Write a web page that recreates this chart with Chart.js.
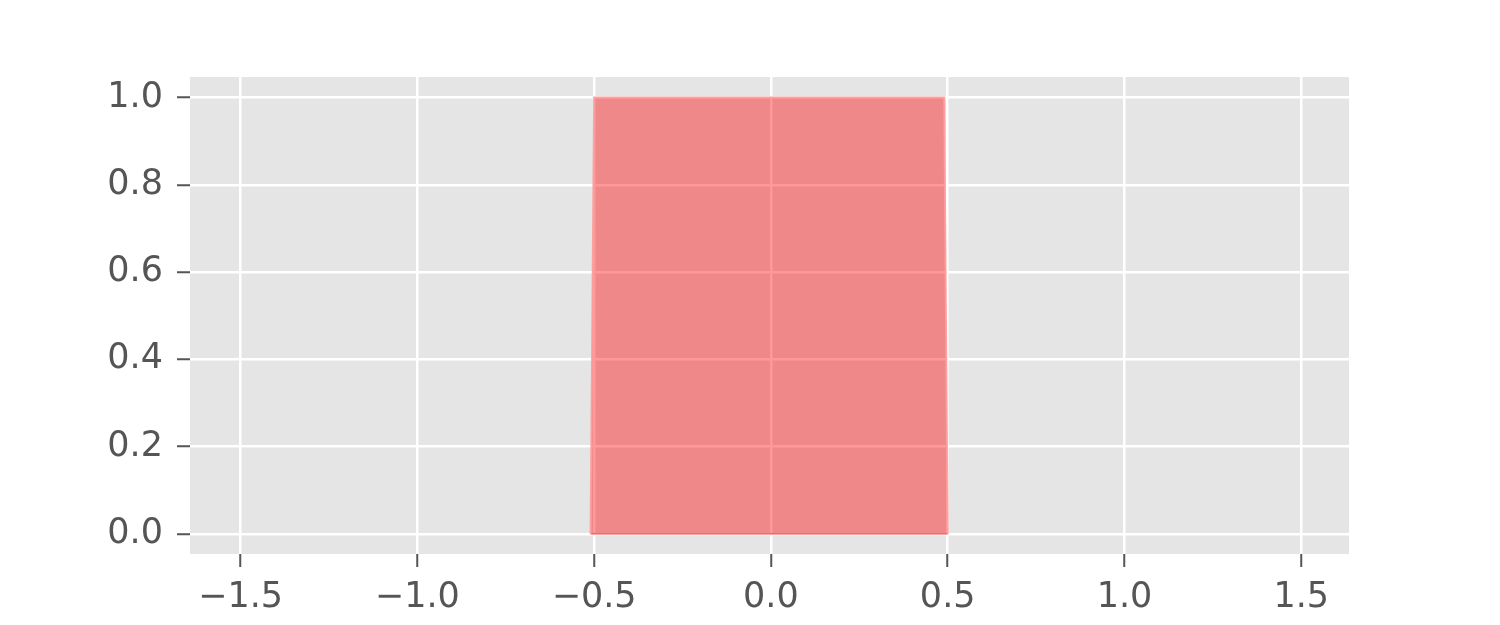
<!DOCTYPE html>
<html>
<head>
<meta charset="utf-8">
<script src="https://cdn.jsdelivr.net/npm/chart.js@4/dist/chart.umd.min.js"></script>
<style>
  html, body { margin:0; padding:0; background:#fff; }
  canvas { display:block; }
</style>
</head>
<body>
<canvas id="c" width="1500" height="625"></canvas>
<script>
// polygon corners (x, y)
const polyX = [-0.51, -0.5, 0.49, 0.5];
const polyY = [0, 1, 1, 0];
// closing bottom edge
const baseX = [-0.51, 0.5];
const baseY = [0, 0];
const xTicks = [-1.5, -1.0, -0.5, 0.0, 0.5, 1.0, 1.5];
const yTicks = [0.0, 0.2, 0.4, 0.6, 0.8, 1.0];
const xRange = [-1.643, 1.635];
const yRange = [-0.046, 1.047];

const pts = (xs, ys) => xs.map((x, i) => ({x, y: ys[i]}));
const fmt = v => (v < 0 ? '\u2212' : '') + Math.abs(v).toFixed(1);

const PlotBg = {
  id:'plotBg',
  beforeDraw(chart){
    const {ctx, chartArea:{left, top, width, height}} = chart;
    ctx.save(); ctx.fillStyle = '#e5e5e5';
    ctx.fillRect(left, top, width, height); ctx.restore();
  }
};

const tickFont = {family:'"DejaVu Sans", sans-serif', size:35};

new Chart(document.getElementById('c').getContext('2d'), {
  type:'scatter',
  data:{datasets:[
    {data:pts(polyX, polyY), showLine:true, fill:'origin', tension:0,
     backgroundColor:'rgba(255,0,0,0.4)', borderColor:'rgba(255,155,155,0.9)',
     borderWidth:2, pointRadius:0},
    {data:pts(baseX, baseY), showLine:true, fill:false,
     borderColor:'rgba(255,155,155,0.9)', borderWidth:2, pointRadius:0}
  ]},
  options:{
    responsive:false, animation:false,
    layout:{padding:{top:77, right:151, bottom:0, left:0}},
    plugins:{legend:{display:false}, tooltip:{enabled:false}},
    scales:{
      x:{type:'linear', min:xRange[0], max:xRange[1],
        afterBuildTicks(s){ s.ticks = xTicks.map(v => ({value:v})); },
        afterFit(s){ s.height = 71; },
        border:{display:false},
        grid:{color:'#ffffff', lineWidth:2.5, tickColor:'#555555', tickLength:13, tickWidth:2},
        ticks:{color:'#555555', font:tickFont, padding:10, maxRotation:0, callback:v => fmt(v)}},
      y:{type:'linear', min:yRange[0], max:yRange[1],
        afterBuildTicks(s){ s.ticks = yTicks.map(v => ({value:v})); },
        afterFit(s){ s.width = 190; },
        border:{display:false},
        grid:{color:'#ffffff', lineWidth:2.5, tickColor:'#555555', tickLength:13, tickWidth:2},
        ticks:{color:'#555555', font:tickFont, padding:14, callback:v => fmt(v)}}
    }
  },
  plugins:[PlotBg]
});
</script>
</body>
</html>
